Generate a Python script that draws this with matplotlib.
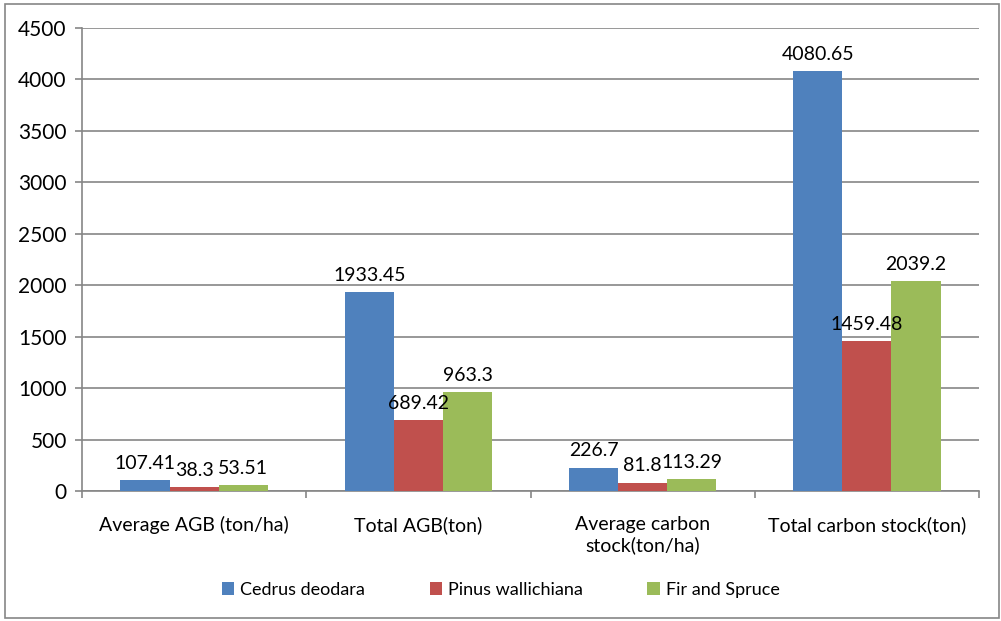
import matplotlib.pyplot as plt
import matplotlib.patches as patches
import numpy as np

plt.rcParams['font.family'] = ['Lato', 'DejaVu Sans']

# data
categories = ["Average AGB (ton/ha)", "Total AGB(ton)",
              "Average carbon\nstock(ton/ha)", "Total carbon stock(ton)"]
species = ["Cedrus deodara", "Pinus wallichiana", "Fir and Spruce"]
cedrus = [107.41, 1933.45, 226.7, 4080.65]
pinus = [38.3, 689.42, 81.8, 1459.48]
fir = [53.51, 963.3, 113.29, 2039.2]
colors = ["#4F81BD", "#C0504D", "#9BBB59"]

fig = plt.figure(figsize=(10.01, 6.21), dpi=100)
ax = fig.add_axes([82/1001, 1-491/621, (979-82)/1001, (491-28)/621])

x = np.arange(len(categories))
w = 0.219
for i, (vals, name) in enumerate(zip([cedrus, pinus, fir], species)):
    bars = ax.bar(x + (i-1)*w, vals, w, color=colors[i], label=name, zorder=3)
    for b, v in zip(bars, vals):
        ax.annotate(str(v), (b.get_x() + b.get_width()/2, v),
                    xytext=(0, 6), textcoords="offset points",
                    ha="center", va="bottom", fontsize=14, color="#000000",
                    zorder=6)

ax.set_xlim(-0.5, 3.5)
ax.set_ylim(0, 4500)
ax.set_yticks(range(0, 4501, 500))
ax.yaxis.grid(True, color="#868686", linewidth=1.2, zorder=0)
ax.set_xticks(x)
ax.set_xticklabels(categories, fontsize=14)
ax.tick_params(axis="x", length=0, pad=18)
ax.tick_params(axis="y", labelsize=15, length=5, color="#868686", width=1.2, pad=6)
# group boundary ticks
ax.set_xticks(np.arange(-0.5, 4, 1), minor=True)
ax.tick_params(axis="x", which="minor", length=5, color="#868686", width=1.2)
for s in ["top", "right"]:
    ax.spines[s].set_visible(False)
for s in ["left", "bottom"]:
    ax.spines[s].set_color("#868686")
    ax.spines[s].set_linewidth(1.2)

leg = fig.legend(loc="center", bbox_to_anchor=(0.5, 1-590/621), ncol=3,
                 frameon=False, fontsize=13, handlelength=0.7, handleheight=0.7,
                 handletextpad=0.3, columnspacing=3.6)

fig.patches.append(patches.Rectangle((5/1001, 3/621), 994/1001, 614/621,
                                     transform=fig.transFigure, fill=False,
                                     edgecolor="#868686", linewidth=1.2))

fig.savefig("out.png", dpi=100)
